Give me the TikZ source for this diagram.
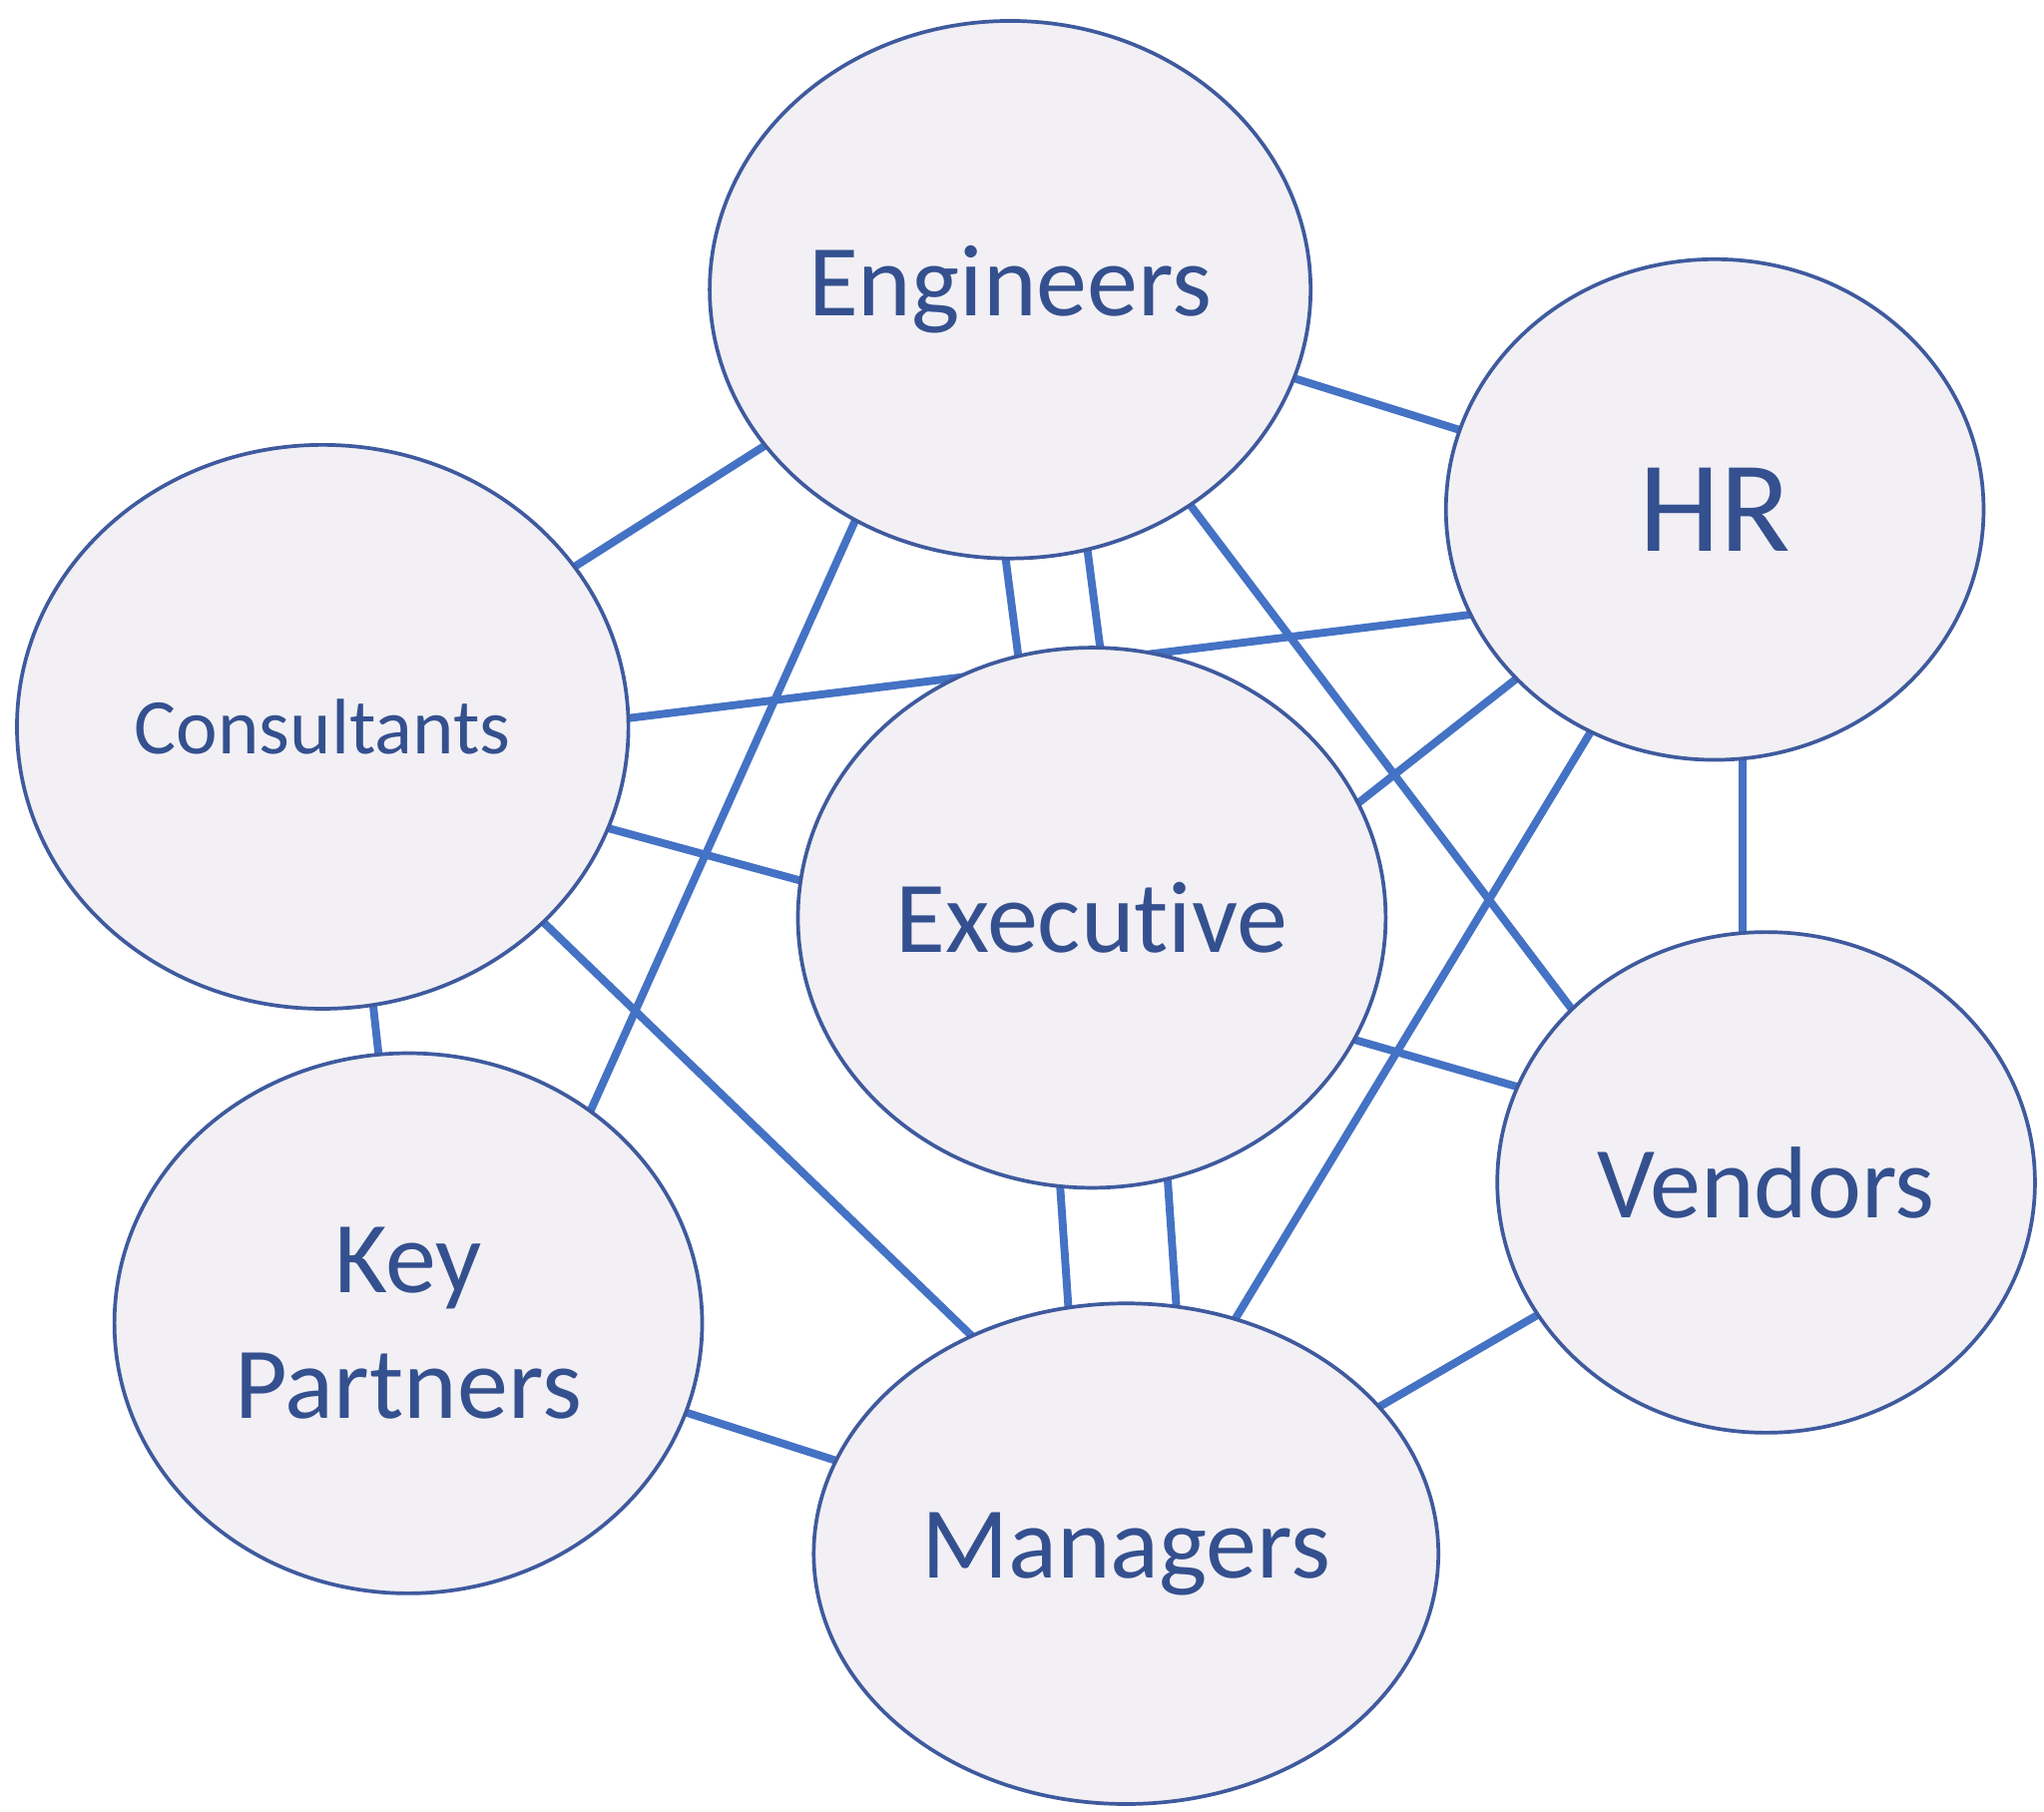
\documentclass[tikz,border=0pt]{standalone}
\usepackage{fontspec}
\setmainfont[Ligatures={NoCommon,NoContextual,NoRequired}]{Carlito}
\usetikzlibrary{shapes.geometric,calc}
\definecolor{fillc}{HTML}{F2F0F4}
\definecolor{borderc}{HTML}{3F5A9E}
\definecolor{linec}{HTML}{4472C4}
\definecolor{textc}{HTML}{34508F}
\begin{document}
\begin{tikzpicture}[x=0.01cm,y=-0.01cm,
  blob/.style={ellipse,draw=borderc,line width=0.8pt,fill=fillc,inner sep=0pt,text=textc,align=center,font=\fontsize{22}{27}\selectfont},
  link/.style={draw=linec,line width=1.7pt}]
\useasboundingbox (0,0) rectangle (1552,1376);
\coordinate (eng) at (767,220);
\coordinate (hr) at (1302,387);
\coordinate (con) at (245,552);
\coordinate (exe) at (829,697);
\coordinate (ven) at (1341,898);
\coordinate (kp) at (310,1005);
\coordinate (man) at (855,1180);
% connectors
\draw[link] (eng) -- (con);
\draw[link] (eng) -- (hr);
\draw[link] ($(eng)+(-30,0)$) -- ($(exe)+(-30,0)$);
\draw[link] ($(eng)+(33,0)$) -- ($(exe)+(33,0)$);
\draw[link] ($(eng)+(-39,0)$) -- ($(kp)+(66,0)$);
\draw[link] ($(eng)+(13,0)$) -- ($(ven)+(-48,0)$);
\draw[link] ($(con)+(0,22)$) -- ($(hr)+(0,57)$);
\draw[link] ($(con)+(0,18)$) -- ($(exe)+(0,32)$);
\draw[link] ($(con)+(15,0)$) -- (kp);
\draw[link] ($(con)+(14,0)$) -- ($(man)+(54,0)$);
\draw[link] ($(hr)+(0,10)$) -- ($(exe)+(0,72)$);
\draw[link] ($(hr)+(21,0)$) -- ($(ven)+(-18,0)$);
\draw[link] ($(hr)+(8,0)$) -- ($(man)+(-25,0)$);
\draw[link] ($(exe)+(0,35)$) -- ($(ven)+(0,-18)$);
\draw[link] ($(exe)+(-38,0)$) -- ($(man)+(-31,0)$);
\draw[link] ($(exe)+(44,0)$) -- ($(man)+(51,0)$);
\draw[link] (ven) -- (man);
\draw[link] (kp) -- (man);
% nodes
\node[blob,minimum width=4.56cm,minimum height=4.08cm] (engN) at (eng) {Engineers};
\node[blob,minimum width=4.08cm,minimum height=3.80cm,font=\fontsize{28}{34}\selectfont] (hrN) at (hr) {HR};
\node[blob,minimum width=4.64cm,minimum height=4.28cm,font=\fontsize{17}{21}\selectfont] (conN) at (con) {Consultants};
\node[blob,minimum width=4.46cm,minimum height=4.10cm] (exeN) at (exe) {Executive};
\node[blob,minimum width=4.08cm,minimum height=3.80cm] (venN) at (ven) {Vendors};
\node[blob,minimum width=4.46cm,minimum height=4.10cm] (kpN) at (kp) {Key\\Partners};
\node[blob,minimum width=4.74cm,minimum height=3.80cm] (manN) at (man) {Managers};
\end{tikzpicture}
\end{document}
